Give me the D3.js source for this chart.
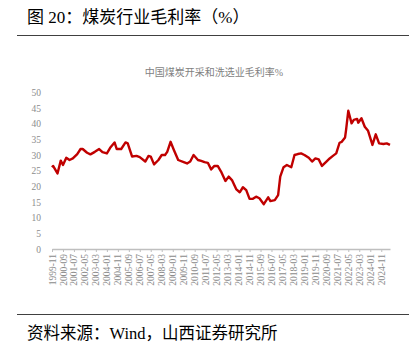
<!DOCTYPE html>
<html><head><meta charset="utf-8">
<script src="https://cdn.jsdelivr.net/npm/d3@7"></script>
<style>
html,body{margin:0;padding:0;background:#fff;}
svg{display:block;}
</style></head>
<body>
<svg id="c" width="419" height="350"></svg>
<script>
const dates = ["1999-11","1999-12","2000-04","2000-07","2000-09","2000-12","2001-03","2001-06","2001-10","2002-01","2002-03","2002-07","2002-10","2003-02","2003-06","2003-09","2004-01","2004-04","2004-08","2004-10","2005-02","2005-06","2005-08","2005-12","2006-04","2006-07","2006-12","2007-03","2007-05","2007-08","2007-12","2008-03","2008-06","2008-08","2008-11","2009-02","2009-06","2009-11","2010-02","2010-05","2010-08","2010-12","2011-03","2011-06","2011-09","2011-12","2012-03","2012-06","2012-09","2013-01","2013-04","2013-07","2013-11","2014-02","2014-05","2014-08","2014-11","2015-02","2015-05","2015-08","2015-12","2016-04","2016-06","2016-10","2017-01","2017-03","2017-06","2017-09","2018-01","2018-04","2018-07","2018-10","2019-01","2019-05","2019-08","2019-11","2020-02","2020-05","2020-09","2020-12","2021-03","2021-06","2021-09","2021-11","2022-02","2022-03","2022-05","2022-08","2022-10","2023-01","2023-02","2023-05","2023-08","2023-11","2024-03","2024-06","2024-09","2025-01","2025-04","2025-07"];
const margin = [26.1,26.5,24.1,28.2,26.8,29.1,28.4,28.9,30.3,31.9,31.9,30.7,30.2,31.0,31.9,30.9,30.5,32.3,34.0,31.9,31.9,34.0,33.7,29.5,29.7,29.3,27.9,29.7,29.5,27.0,28.4,30.0,30.0,31.0,34.2,31.6,28.4,27.7,27.3,27.9,30.0,28.4,28.1,27.7,27.5,25.4,26.5,26.5,24.7,21.7,23.1,22.0,19.0,18.1,19.7,18.8,16.0,16.0,16.7,16.2,14.3,16.5,15.3,15.6,17.2,23.1,26.1,26.8,26.1,30.0,30.3,30.5,30.0,29.1,27.9,28.9,28.6,26.5,27.9,28.9,29.7,30.5,33.9,34.2,35.6,38.0,44.1,40.1,41.2,41.5,40.3,41.7,39.0,37.7,33.2,36.6,33.7,33.5,33.7,33.2];
const xTickLabels = ["1999-11","2000-09","2001-07","2002-05","2003-03","2004-01","2004-11","2005-09","2006-07","2007-05","2008-03","2009-01","2009-11","2010-09","2011-07","2012-05","2013-03","2014-01","2014-11","2015-09","2016-07","2017-05","2018-03","2019-01","2019-11","2020-09","2021-07","2022-05","2023-03","2024-01","2024-11"];
const yTicks = [0,5,10,15,20,25,30,35,40,45,50];
const heading = "图 20：煤炭行业毛利率（%）";
const chartTitle = "中国煤炭开采和洗选业毛利率%";
const source = "资料来源：Wind，山西证券研究所";

const svg = d3.select("#c");
const parse = d3.timeParse("%Y-%m");
const serif = "'Liberation Serif','Times New Roman','Noto Sans CJK SC',serif";

// heading and rules
svg.append("text").attr("x",27).attr("y",23).attr("font-family",serif).attr("font-size",17).attr("fill","#000").text(heading);
svg.append("line").attr("x1",17).attr("x2",409).attr("y1",35.5).attr("y2",35.5).attr("stroke","#404040").attr("stroke-width",1);
svg.append("line").attr("x1",17).attr("x2",409).attr("y1",314.5).attr("y2",314.5).attr("stroke","#404040").attr("stroke-width",1);
svg.append("text").attr("x",27).attr("y",339).attr("font-family",serif).attr("font-size",16.5).attr("fill","#000").text(source);

// chart title
svg.append("text").attr("x",214).attr("y",76).attr("text-anchor","middle").attr("font-family",serif).attr("font-size",10).attr("fill","#7f7f7f").text(chartTitle);

const x = d3.scaleTime().domain([parse("1999-11"), parse("2025-07")]).range([52, 390]);
const y = d3.scaleLinear().domain([0,50]).range([249, 92.3]);

// y axis labels
const ya = svg.append("g").attr("transform","translate(41,0)")
  .call(d3.axisLeft(y).tickValues(yTicks).tickSize(0).tickPadding(0));
ya.select(".domain").remove();
ya.selectAll("text").attr("font-family",serif).attr("font-size",9.5).attr("fill","#8c8c8c");

// x axis
const xa = svg.append("g").attr("transform","translate(0,249)")
  .call(d3.axisBottom(x).tickValues(xTickLabels.map(parse)).tickFormat(d3.timeFormat("%Y-%m")).tickSize(3).tickSizeOuter(0).tickPadding(2));
xa.select(".domain").attr("stroke","#bfbfbf").attr("stroke-width",1.5);
xa.selectAll(".tick line").attr("stroke","#bfbfbf");
xa.selectAll("text").attr("font-family",serif).attr("font-size",9.5).attr("fill","#8c8c8c")
  .attr("transform","rotate(-90)").attr("text-anchor","end").attr("dy","0.32em").attr("x",-5).attr("y",0);

// line
const pts = dates.map((d,i)=>({d:parse(d), v:margin[i]}));
svg.append("path").datum(pts)
  .attr("fill","none").attr("stroke","#c00000").attr("stroke-width",2.4).attr("stroke-linejoin","round")
  .attr("d", d3.line().x(p=>x(p.d)).y(p=>y(p.v)));
</script>
</body></html>
